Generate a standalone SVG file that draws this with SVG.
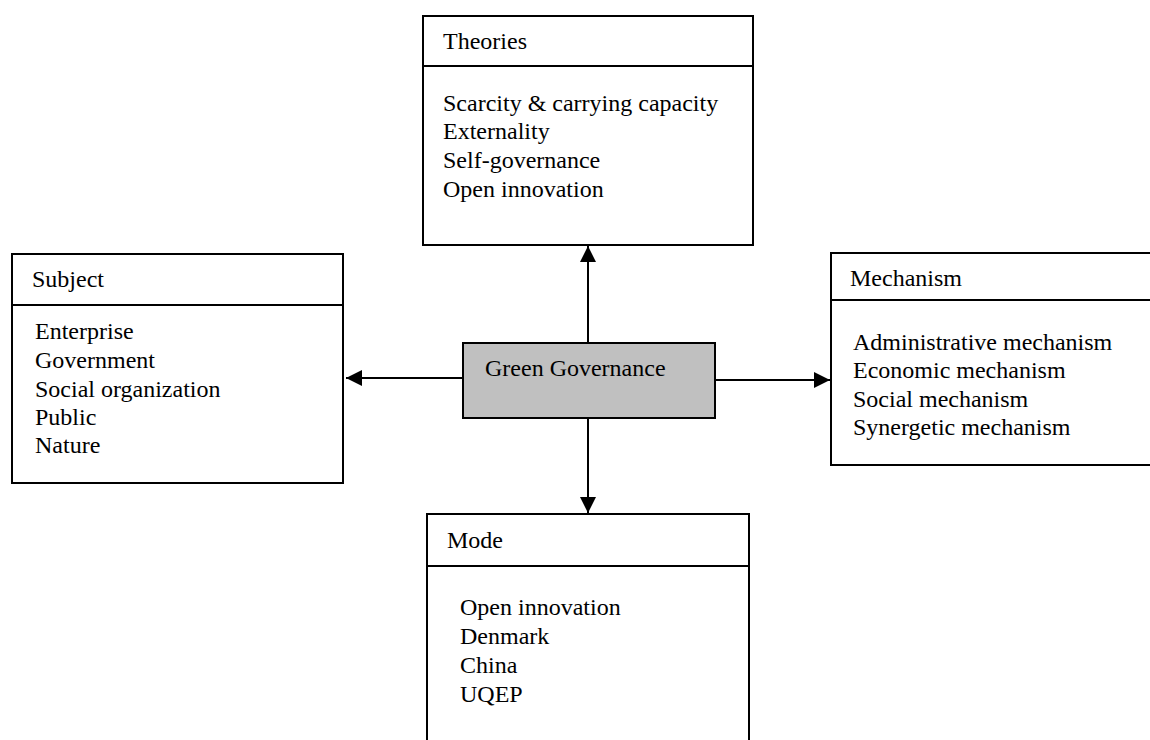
<svg xmlns="http://www.w3.org/2000/svg" width="1150" height="740" viewBox="0 0 1150 740">
<style>
.box{fill:#fff;stroke:#000;stroke-width:2}
.div{stroke:#000;stroke-width:2}
.t{font-family:"Liberation Serif",serif;font-size:24px;fill:#000}
.con{stroke:#000;stroke-width:2;fill:none}
</style>
<defs>
<marker id="ah" markerUnits="userSpaceOnUse" markerWidth="18" markerHeight="16" refX="16" refY="8" orient="auto">
<path d="M0,0 L16,8 L0,16 Z" fill="#000"/>
</marker>
</defs>
<rect width="1150" height="740" fill="#fff"/>
<g id="theories">
<rect class="box" x="423" y="16" width="330" height="229"/>
<line class="div" x1="423" y1="66" x2="753" y2="66"/>
<text class="t" x="443" y="49">Theories</text>
<text class="t" x="443" y="111">Scarcity &amp; carrying capacity</text>
<text class="t" x="443" y="139">Externality</text>
<text class="t" x="443" y="168">Self-governance</text>
<text class="t" x="443" y="197">Open innovation</text>
</g>
<g id="subject">
<rect class="box" x="12" y="254" width="331" height="229"/>
<line class="div" x1="12" y1="305" x2="343" y2="305"/>
<text class="t" x="32" y="287">Subject</text>
<text class="t" x="35" y="339">Enterprise</text>
<text class="t" x="35" y="368">Government</text>
<text class="t" x="35" y="397">Social organization</text>
<text class="t" x="35" y="425">Public</text>
<text class="t" x="35" y="453">Nature</text>
</g>
<g id="mechanism">
<rect class="box" x="831" y="253" width="330" height="212"/>
<line class="div" x1="831" y1="300" x2="1161" y2="300"/>
<text class="t" x="850" y="286">Mechanism</text>
<text class="t" x="853" y="350">Administrative mechanism</text>
<text class="t" x="853" y="378">Economic mechanism</text>
<text class="t" x="853" y="407">Social mechanism</text>
<text class="t" x="853" y="435">Synergetic mechanism</text>
</g>
<g id="mode">
<rect class="box" x="427" y="514" width="322" height="240"/>
<line class="div" x1="427" y1="566" x2="749" y2="566"/>
<text class="t" x="447" y="548">Mode</text>
<text class="t" x="460" y="615">Open innovation</text>
<text class="t" x="460" y="644">Denmark</text>
<text class="t" x="460" y="673">China</text>
<text class="t" x="460" y="702">UQEP</text>
</g>
<g id="green-governance">
<rect x="463" y="343" width="252" height="75" fill="#c0c0c0" stroke="#000" stroke-width="2"/>
<text class="t" x="485" y="376">Green Governance</text>
</g>
<g id="connectors">
<line class="con" x1="588" y1="343" x2="588" y2="246" marker-end="url(#ah)"/>
<line class="con" x1="588" y1="418" x2="588" y2="513" marker-end="url(#ah)"/>
<line class="con" x1="463" y1="378" x2="346" y2="378" marker-end="url(#ah)"/>
<line class="con" x1="715" y1="380" x2="830" y2="380" marker-end="url(#ah)"/>
</g>
</svg>
